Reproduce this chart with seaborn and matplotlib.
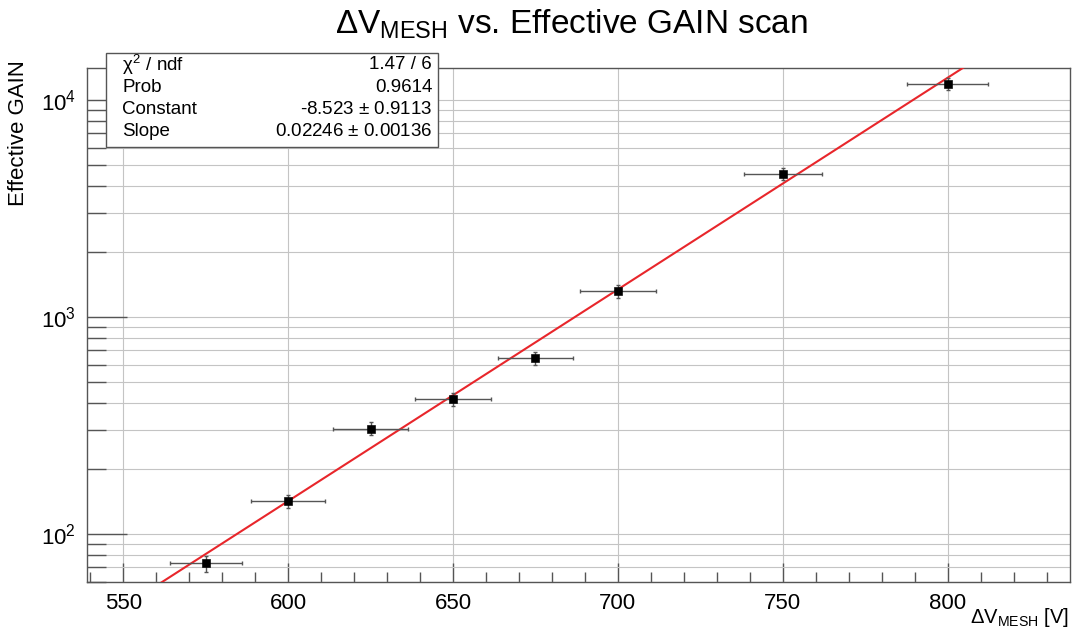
import numpy as np
import pandas as pd
import matplotlib
matplotlib.use("Agg")
import matplotlib.pyplot as plt
import matplotlib.ticker as mticker
from matplotlib.patches import Rectangle
import seaborn as sns

# mesh voltage scan points
voltage = [575, 600, 625, 650, 675, 700, 750, 800]
gain = [73, 141, 305, 419, 643, 1309, 4560, 11850]
voltage_err = [11.0, 11.2, 11.3, 11.4, 11.5, 11.5, 11.8, 12.2]
gain_err = [6, 10, 21, 29, 45, 90, 300, 800]

# exponential fit, values from the stats box
fit_const = -8.523
fit_slope = 0.02246
stats_labels = [r"$\chi^{2}$ / ndf", "Prob", "Constant", "Slope"]
stats_values = ["1.47 / 6", "0.9614", "-8.523 $\\pm$ 0.9113", "0.02246 $\\pm$ 0.00136"]

df = pd.DataFrame({"V": voltage, "G": gain})

sns.set_style("white")
plt.rcParams['font.family'] = ['Liberation Sans', 'DejaVu Sans']
plt.rcParams['mathtext.fontset'] = 'custom'
plt.rcParams['mathtext.rm'] = 'Liberation Sans'
plt.rcParams['mathtext.it'] = 'Liberation Sans'
plt.rcParams['mathtext.bf'] = 'Liberation Sans'
plt.rcParams['text.color'] = 'black'
plt.rcParams['xtick.color'] = 'black'
plt.rcParams['ytick.color'] = 'black'

fig = plt.figure(figsize=(10.75, 6.31), dpi=100)
ax = fig.add_axes([0.081, 0.0777, 0.914, 0.8143])

ax.set_xlim(539, 837)
ax.set_ylim(60, 14000)
ax.set_yscale('log')

# fit curve
xf = np.linspace(539, 837, 300)
fit_df = pd.DataFrame({"V": xf, "G": np.exp(fit_const + fit_slope * xf)})
sns.lineplot(data=fit_df, x="V", y="G", ax=ax, color='#e8262b', lw=1.5, zorder=3)

ax.errorbar(voltage, gain, xerr=voltage_err, yerr=gain_err, fmt='none',
            ecolor='#555555', elinewidth=1, capsize=1.5, zorder=4)
sns.scatterplot(data=df, x="V", y="G", ax=ax, marker='s', color='black',
                s=30, edgecolor='black', zorder=5)

# ticks ROOT-style
ax.xaxis.set_major_locator(mticker.MultipleLocator(50))
ax.xaxis.set_minor_locator(mticker.MultipleLocator(10))
ax.yaxis.set_major_locator(mticker.LogLocator(base=10))
ax.yaxis.set_minor_locator(mticker.LogLocator(base=10, subs=np.arange(2, 10)))
ax.yaxis.set_major_formatter(mticker.FuncFormatter(lambda v, p: r"$10^{%d}$" % round(np.log10(v))))
ax.yaxis.set_minor_formatter(mticker.NullFormatter())
ax.tick_params(axis='both', which='both', bottom=True, left=True, top=False, right=False)
ax.tick_params(axis='x', which='major', direction='in', length=14, width=1, color='#555555',
               labelsize=16, pad=8)
ax.tick_params(axis='x', which='minor', direction='in', length=7, width=1, color='#555555')
ax.tick_params(axis='y', which='major', direction='in', length=29, width=1, color='#555555',
               labelsize=16, pad=8)
ax.tick_params(axis='y', which='minor', direction='in', length=14, width=1, color='#555555')

ax.grid(True, which='major', axis='x', color='#c4c4c4', lw=0.8)
ax.grid(True, which='both', axis='y', color='#c4c4c4', lw=0.8)
for sp in ax.spines.values():
    sp.set_color('#555555')
    sp.set_linewidth(1)
ax.set_xlabel('')
ax.set_ylabel('')

fig.text(0.532, 0.962, r"$\Delta$V$_{\mathrm{MESH}}$ vs. Effective GAIN scan",
         ha='center', va='center', fontsize=24)
fig.text(0.995, 0.022, r"$\Delta$V$_{\mathrm{MESH}}$ [V]", ha='right', va='center', fontsize=14.5)
fig.text(0.017, 0.905, "Effective GAIN", rotation=90, ha='center', va='top', fontsize=16)

# stats box
box = Rectangle((0.0986, 0.767), 0.3088, 0.149, transform=fig.transFigure,
                facecolor='white', edgecolor='#555555', lw=1, zorder=1)
fig.add_artist(box)
rows_y = [0.897, 0.862, 0.827, 0.792]
for lab, val, yy in zip(stats_labels, stats_values, rows_y):
    fig.text(0.1135, yy, lab, ha='left', va='center', fontsize=13.5, zorder=3)
    fig.text(0.402, yy, val, ha='right', va='center', fontsize=13.5, zorder=3)

fig.savefig('out.png', dpi=100)
